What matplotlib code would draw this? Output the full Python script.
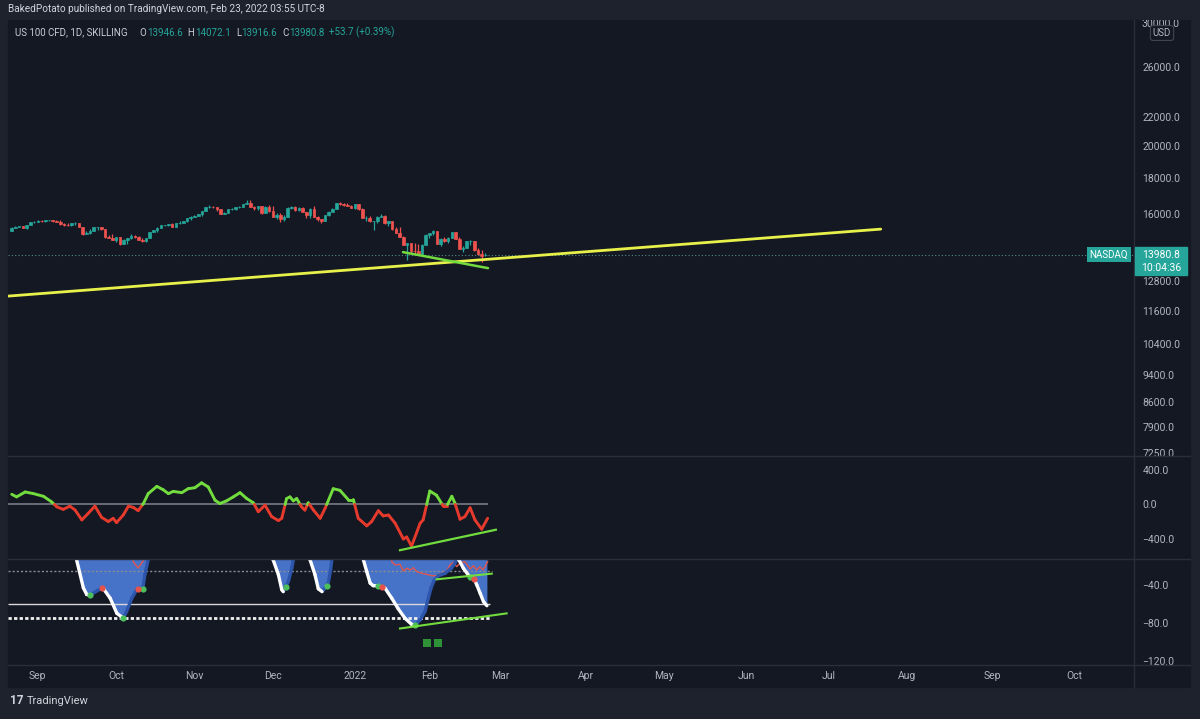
import numpy as np
import pandas as pd
import matplotlib
matplotlib.use('Agg')
import matplotlib.pyplot as plt
import matplotlib.transforms as mtransforms
from matplotlib.collections import LineCollection
from matplotlib.patches import Rectangle
from matplotlib.lines import Line2D
from matplotlib.ticker import NullLocator

plt.rcParams['font.family'] = ['Roboto', 'DejaVu Sans']

# ---- data -----------------------------------------------------------------
holidays = ['2021-09-06', '2021-11-25', '2021-12-24', '2022-01-17', '2022-02-21']
dates = pd.bdate_range('2021-08-23', '2022-02-23').drop(pd.to_datetime(holidays))
future = pd.bdate_range('2022-02-24', '2022-11-30')

opens = [15130, 15290, 15320, 15350, 15270, 15400, 15570,
         15580, 15610, 15600, 15650, 15670, 15620, 15560, 15450, 15430, 15400, 15520,
         15530, 15330, 14990, 15000, 15140, 15300, 15320, 15240, 14810, 14790,
         14690, 14800, 14470, 14660, 14750, 14880, 14810, 14690, 14640, 14760, 15070,
         15150, 15290, 15400, 15410, 15480, 15340, 15500, 15530, 15600, 15770,
         15850, 15900, 15970, 16150, 16350, 16390, 16350, 16240, 16000, 16060, 16240,
         16240, 16350, 16350, 16520, 16570, 16370, 16330, 16400, 16030, 16380,
         16140, 15830, 15960, 15710, 15850, 16330, 16390, 16190, 16330, 16100, 15940,
         16270, 15840, 15720, 15600, 15920, 16120, 16270, 16570, 16500, 16490, 16420,
         16320, 16500, 16280, 15770, 15770, 15610, 15620, 15850, 15900, 15500,
         15610, 15200, 15030, 14840, 14440, 14510, 14150, 14140, 14030, 14450,
         14930, 15000, 15120, 14500, 14700, 14630, 14780, 15050, 14730, 14250,
         14270, 14620, 14620, 14190, 14010, 13946.6]
highs = [15320, 15360, 15380, 15370, 15420, 15590, 15600,
         15660, 15650, 15680, 15700, 15680, 15660, 15650, 15540, 15500, 15530, 15560,
         15540, 15330, 15120, 15200, 15330, 15340, 15330, 15240, 14920, 14950,
         14820, 14800, 14720, 14780, 14950, 14930, 14890, 14760, 14790, 15090, 15170,
         15310, 15420, 15440, 15490, 15510, 15510, 15600, 15640, 15790, 15870,
         15920, 15990, 16170, 16380, 16470, 16420, 16370, 16240, 16100, 16250, 16300,
         16380, 16400, 16540, 16760, 16720, 16400, 16420, 16400, 16420, 16450,
         16400, 16040, 16040, 15920, 16350, 16420, 16400, 16350, 16370, 16120, 16290,
         16410, 15900, 15730, 15930, 16130, 16300, 16580, 16640, 16560, 16580, 16480,
         16510, 16550, 16300, 15910, 15860, 15630, 15860, 15980, 15960, 15630,
         15610, 15330, 15330, 14890, 14520, 14510, 14550, 14490, 14460, 14950,
         15020, 15190, 15120, 14780, 14820, 14800, 15060, 15090, 14800, 14400,
         14630, 14670, 14620, 14270, 14190, 14072.1]
lows = [15120, 15280, 15300, 15260, 15240, 15400, 15520,
        15570, 15570, 15570, 15620, 15560, 15550, 15440, 15380, 15360, 15360, 15440,
        15300, 14920, 14960, 14980, 15130, 15170, 15180, 14790, 14760, 14680,
        14560, 14420, 14470, 14480, 14740, 14790, 14680, 14600, 14590, 14760, 15050,
        15090, 15270, 15350, 15370, 15300, 15320, 15480, 15520, 15560, 15700,
        15810, 15860, 15900, 16150, 16300, 16300, 16170, 15970, 15990, 16030, 16180,
        16220, 16310, 16340, 16500, 16350, 16200, 16200, 15990, 16030, 16080,
        15830, 15740, 15550, 15630, 15850, 16250, 16170, 16140, 16080, 15800, 15780,
        15820, 15610, 15500, 15600, 15860, 16110, 16260, 16480, 16430, 16400, 16310,
        16240, 16210, 15770, 15640, 15580, 15170, 15500, 15810, 15490, 15370,
        15180, 15020, 14830, 14440, 13720, 14070, 13960, 14000, 13960, 14420,
        14790, 14940, 14460, 14380, 14590, 14530, 14780, 14720, 14230, 14080,
        14270, 14430, 14170, 13970, 13660, 13916.6]
closes = [15290, 15320, 15350, 15270, 15400, 15570, 15580,
          15610, 15600, 15650, 15670, 15620, 15560, 15450, 15430, 15400, 15520, 15530,
          15330, 14990, 15000, 15140, 15300, 15320, 15240, 14810, 14790, 14690,
          14800, 14470, 14660, 14750, 14880, 14810, 14690, 14640, 14760, 15070, 15150,
          15290, 15400, 15410, 15480, 15340, 15500, 15530, 15600, 15770, 15850,
          15900, 15970, 16150, 16350, 16390, 16350, 16240, 16000, 16060, 16240, 16240,
          16350, 16350, 16520, 16570, 16370, 16330, 16400, 16030, 16380, 16140,
          15830, 15960, 15710, 15850, 16330, 16390, 16190, 16330, 16100, 15940, 16270,
          15840, 15720, 15600, 15920, 16120, 16270, 16570, 16500, 16490, 16420, 16320,
          16500, 16280, 15770, 15770, 15610, 15620, 15850, 15900, 15500, 15610,
          15200, 15030, 14840, 14440, 14510, 14150, 14140, 14030, 14450, 14930,
          15000, 15120, 14500, 14700, 14630, 14780, 15050, 14730, 14250, 14270,
          14620, 14620, 14190, 14010, 13927.1, 13980.8]
assert len(opens) == len(highs) == len(lows) == len(closes) == len(dates)

last_price = 13980.8
yellow_x, yellow_y = [-1, 233], [12190, 15210]
pdiv_x, pdiv_y = [104.9, 127.7], [14097, 13370]
price_ticks = [26000, 22000, 20000, 18000, 16000, 12800, 11600, 10400, 9400, 8600, 7900, 7250]

# upper oscillator
osc_x = [0, 1.3, 3.6, 5.8, 8.5, 10.7, 12.1, 13.8, 15.6, 17.0, 18.8, 20.5, 22.3, 24.1, 25.9,
         27.2, 28.1, 29.9, 31.3, 32.6, 33.9, 35.3, 36.6, 38.9, 40.6, 42.0, 43.3, 45.6, 47.3,
         49.1, 50.9, 52.7, 54.5, 55.8, 57.6, 59.4, 61.2, 63.0, 64.8, 66.1, 67.9, 69.7, 71.5,
         72.4, 73.7, 74.6, 75.5, 76.4, 77.7, 78.6, 79.5, 80.9, 82.7, 84.0, 86.2, 88.0, 90.2,
         91.6, 92.9, 95.2, 96.5, 98.3, 99.6, 101.0, 102.8, 105.0, 105.9, 107.2, 109.5, 110.3,
         112.1, 113.9, 115.7, 116.6, 118.0, 118.8, 120.2, 121.5, 122.9, 124.2, 126.0, 127.6]
osc_y = [118, 88, 145, 126, 95, 30, -27, -57, -19, -65, -179, -103, -19, -149, -198,
         -160, -210, -122, -19, -34, -72, 11, 126, 210, 171, 126, 152, 137, 183,
         194, 251, 202, 50, 11, 42, 88, 137, 69, 19, -84, -8, -141, -187,
         -160, 69, 88, 42, 69, -27, -65, 19, -65, -160, -46, 183, 164, 57,
         57, -160, -248, -198, -72, -133, -122, -217, -400, -377, -484, -217, -179,
         156, 107, -19, -19, 95, 19, -171, -141, -38, -179, -286, -160]
odiv_x, odiv_y = [104.1, 129.8], [-530, -293]

# lower oscillator
wave_x = [0, 16.8, 17.4, 19.2, 20.1, 21.0, 22.5, 24.1, 24.6, 26.4, 28.2, 29.9, 30.8, 32.2,
          33.5, 35.1, 35.7, 36.6, 37.2,
          69.5, 70.1, 71.5, 72.4, 72.8, 73.5, 74.2, 75.1, 75.5, 76.0,
          79.5, 80.0, 81.3, 82.2, 83.2, 84.5, 84.9, 85.5, 85.8, 86.3,
          93.8, 94.3, 95.2, 96.1, 96.9, 98.3, 99.2, 100.1, 101.9, 103.6, 105.4, 107.2, 108.1,
          109.5, 110.8, 111.7, 112.4, 113.3, 114.4, 116.2, 117.9, 118.8, 119.3, 119.6, 119.9,
          121.1, 122.4, 122.9, 124.0, 124.7, 125.6, 126.5, 127.4]
wave_y = [0, 0, -13.5, -43, -50, -51, -47, -43.5, -44, -54, -70, -75, -68, -54,
          -45, -44.5, -29, -13, 0,
          0, -13.5, -29, -45, -47, -42, -36, -22, -13.5, 0,
          0, -13.5, -29, -44, -47, -41, -37, -24, -13.5, 0,
          0, -13.5, -26, -38, -40.7, -41, -42, -43.5, -54, -65, -75, -81.6, -82.3,
          -77, -68, -54, -43.5, -34.7, -30.2, -27.6, -22.3, -17, -13.5, -8, -13.5,
          -22.3, -29.4, -31.2, -33.7, -40, -48.8, -57.7, -61.9]
signal_x = [0, 32.0, 32.6, 33.9, 35.2, 35.8, 101.3, 101.9, 102.8, 104.1, 105.0, 105.9, 106.8,
            107.7, 108.6, 109.9, 111.3, 112.6, 113.9, 115.3, 116.6, 117.5, 118.4, 119.3,
            120.2, 121.5, 122.9, 123.8, 124.7, 125.5, 126.4, 127.6]
signal_y = [0, 0, -15.7, -22, -14.6, 0, 0, -15.3, -18.8, -18.1, -25.2, -22.3, -24.1,
            -21.7, -25.9, -27.6, -28.7, -30.2, -30.2, -27.6, -25.2, -18.8, -16.0, -20.6,
            -17.0, -15.3, -23.1, -19.6, -24.1, -20.6, -24.1, -15.3]
green_dot_x = [21.0, 29.9, 35.1, 73.5, 84.5, 98.3, 108.1, 122.9]
green_dot_y = [-51, -75, -44.5, -42, -41, -41, -82.3, -31.2]
red_dot_x = [24.1, 33.9, 99.2, 124.0]
red_dot_y = [-43.5, -44.5, -42, -33.7]
square_x = [111.3, 114.3]
square_y = [-101, -101]
wdiv1_x, wdiv1_y = [113.9, 128.7], [-34, -28]
wdiv2_x, wdiv2_y = [104.1, 132.7], [-86, -70]

# ---- style ----------------------------------------------------------------
W, H = 1200, 719
FRAME = '#1e222d'
BG = '#141823'
SEP = '#2a2e39'
TXT = '#b2b5be'
UP = '#26a69a'
DOWN = '#ef5350'
LIME = '#72dc3e'
RED = '#e53a2c'
FILL = '#4672c8'
EDGE = '#2c55ab'
XLIM = (-1.0, 300.9)

fig = plt.figure(figsize=(W / 100, H / 100), dpi=100)
fig.patch.set_facecolor(FRAME)


def box(x0, y0, x1, y1):
    return [x0 / W, 1 - y1 / H, (x1 - x0) / W, (y1 - y0) / H]


def fx(x):
    return x / W


def fy(y):
    return 1 - y / H


fig.add_artist(Rectangle((fx(8), fy(687)), (1190 - 8) / W, (687 - 20) / H,
                         transform=fig.transFigure, color=BG, zorder=-5))

ax_p = fig.add_axes(box(8, 20, 1134, 456))
ax_o = fig.add_axes(box(8, 456, 1134, 559))
ax_w = fig.add_axes(box(8, 559, 1134, 665))
for ax in (ax_p, ax_o, ax_w):
    ax.set_facecolor(BG)
    for s in ax.spines.values():
        s.set_visible(False)
    ax.set_xlim(*XLIM)
    ax.yaxis.tick_right()
    ax.tick_params(axis='y', which='both', length=0, pad=6, labelsize=7.5, labelcolor=TXT)
    ax.tick_params(axis='x', length=0)

# ---- price pane -----------------------------------------------------------
o, h, l, c = map(np.array, (opens, highs, lows, closes))
idx = np.arange(len(c))
col = np.where(c >= o, UP, DOWN)
ax_p.set_yscale('log')
ax_p.set_ylim(7187, 30356)
ax_p.vlines(idx, l, h, colors=col, lw=0.9, zorder=2)
ax_p.bar(idx, np.abs(c - o), bottom=np.minimum(o, c), width=0.7, color=col,
         edgecolor=col, linewidth=0.5, zorder=3)
ax_p.axhline(last_price, color='#4f8f88', lw=0.8, ls=(0, (1, 2)), zorder=1)
ax_p.plot(yellow_x, yellow_y, color='#e8f04a', lw=2, zorder=4, solid_capstyle='round')
ax_p.plot(pdiv_x, pdiv_y, color=LIME, lw=1.8, zorder=5, solid_capstyle='round')
ax_p.set_yticks(price_ticks)
ax_p.set_yticklabels([f'{t:.1f}' for t in price_ticks])
ax_p.yaxis.set_minor_locator(NullLocator())
ax_p.set_xticks([])

ax_ps = fig.add_axes(box(1134, 20, 1190, 456))
ax_ps.set_yscale('log')
ax_ps.set_ylim(7187, 30356)
ax_ps.axis('off')
ax_ps.text(8 / 56, 30000, '30000.0', transform=mtransforms.blended_transform_factory(
    ax_ps.transAxes, ax_ps.transData), va='center', ha='left', fontsize=7.5,
    color=TXT, clip_on=True)

# ---- upper oscillator -----------------------------------------------------
ax_o.set_ylim(-632, 562)
ax_o.hlines(0, XLIM[0], 127.7, color='#787b86', lw=1.2, zorder=1)
segs, cols = [], []
for i in range(len(osc_x) - 1):
    x0, y0, x1, y1 = osc_x[i], osc_y[i], osc_x[i + 1], osc_y[i + 1]
    if (y0 >= 0) != (y1 >= 0):
        xc = x0 + (x1 - x0) * (0 - y0) / (y1 - y0)
        segs += [[(x0, y0), (xc, 0)], [(xc, 0), (x1, y1)]]
        cols += [LIME if y0 >= 0 else RED, LIME if y1 >= 0 else RED]
    else:
        segs.append([(x0, y0), (x1, y1)])
        cols.append(LIME if y0 >= 0 else RED)
ax_o.add_collection(LineCollection(segs, colors=cols, linewidths=2.1, capstyle='round',
                                   zorder=3))
ax_o.plot(odiv_x, odiv_y, color=LIME, lw=1.6, zorder=4)
ax_o.set_yticks([400, 0, -400])
ax_o.set_yticklabels(['400.0', '0.0', '\u2212400.0'])
ax_o.set_xticks([])

# ---- lower oscillator -----------------------------------------------------
ax_w.set_ylim(-124.6, -12.5)
ax_w.fill_between(wave_x, wave_y, 40, color=FILL, lw=0, zorder=1)
ax_w.hlines(-25, XLIM[0], 128.7, color='#8a8d96', lw=1.0, ls=(0, (1.5, 1.5)), zorder=2)
ax_w.hlines(-60, XLIM[0], 128.2, color='#d8d8d8', lw=1.0, zorder=2)
ax_w.hlines(-75, XLIM[0], 128.2, color='#f0f0f0', lw=2.0, ls=(0, (1.2, 0.8)), zorder=2)
ax_w.plot(signal_x, signal_y, color='#e0574f', lw=1.0, zorder=3)
wsegs, wcols = [], []
for i in range(len(wave_x) - 1):
    wsegs.append([(wave_x[i], wave_y[i]), (wave_x[i + 1], wave_y[i + 1])])
    wcols.append('white' if wave_y[i + 1] < wave_y[i] else EDGE)
order = sorted(range(len(wsegs)), key=lambda k: wcols[k] == 'white')
ax_w.add_collection(LineCollection([wsegs[k] for k in order], colors=[wcols[k] for k in order],
                                   linewidths=2.4, capstyle='round', zorder=4))
ax_w.scatter(green_dot_x, green_dot_y, s=20, color='#4cbf5c', zorder=5, lw=0)
ax_w.scatter(red_dot_x, red_dot_y, s=20, color='#e5534b', zorder=5, lw=0)
ax_w.plot(wdiv1_x, wdiv1_y, color=LIME, lw=1.5, zorder=6)
ax_w.plot(wdiv2_x, wdiv2_y, color=LIME, lw=1.5, zorder=6)
ax_w.scatter(square_x, square_y, marker='s', s=36, color='#2f9236', zorder=5, lw=0)
ax_w.set_yticks([-40, -80, -120])
ax_w.set_yticklabels(['\u221240.0', '\u221280.0', '\u2212120.0'])

all_dates = dates.append(future)
month_pos, month_lab = [], []
prev = (all_dates[0].year, all_dates[0].month)
for i, d in enumerate(all_dates):
    if (d.year, d.month) != prev:
        month_pos.append(i)
        month_lab.append(str(d.year) if d.month == 1 else d.strftime('%b'))
        prev = (d.year, d.month)
ax_w.set_xticks(month_pos)
ax_w.set_xticklabels(month_lab)
ax_w.tick_params(axis='x', length=0, pad=4, labelsize=7.5, labelcolor=TXT)
ax_w.set_xlim(*XLIM)

# ---- separators and labels ------------------------------------------------
for y in (456, 559, 665):
    fig.add_artist(Line2D([fx(8), fx(1190)], [fy(y), fy(y)], transform=fig.transFigure,
                          color=SEP, lw=1))
fig.add_artist(Line2D([fx(1134), fx(1134)], [fy(20), fy(687)], transform=fig.transFigure,
                      color=SEP, lw=1))

fig.text(fx(1162), fy(33), 'USD', ha='center', va='center', fontsize=7, color=TXT,
         bbox=dict(boxstyle='round,pad=0.25', fc=BG, ec='#434651', lw=0.8))
fig.text(fx(1109), fy(254.5), 'NASDAQ', ha='center', va='center', fontsize=7,
         color='white', bbox=dict(boxstyle='square,pad=0.28', fc=UP, ec='none'))
fig.add_artist(Rectangle((fx(1135), fy(275)), 52 / W, 28 / H, transform=fig.transFigure,
                         color=UP, zorder=2))
fig.text(fx(1161), fy(254.5), f'{last_price:.1f}', ha='center', va='center', fontsize=7.5,
         color='white', zorder=3)
fig.text(fx(1161), fy(268), '10:04:36', ha='center', va='center', fontsize=7.5,
         color='white', zorder=3)

fig.text(fx(8), fy(9.5), 'BakedPotato published on TradingView.com, Feb 23, 2022 03:55 UTC-8',
         ha='left', va='center', fontsize=7.2, color='#d1d4dc')

LEG = '#c8cbd3'
legend_parts = [('US 100 CFD, 1D, SKILLING', LEG, 12), ('O', LEG, 0.5), ('13946.6', UP, 5),
                ('H', LEG, 0.5), ('14072.1', UP, 5), ('L', LEG, 0.5), ('13916.6', UP, 5),
                ('C', LEG, 0.5), ('13980.8', UP, 5), ('+53.7 (+0.39%)', UP, 0)]
renderer = fig.canvas.get_renderer()
xpos = 15
for s, cc, gap in legend_parts:
    t = fig.text(fx(xpos), fy(32.5), s, ha='left', va='center', fontsize=7, color=cc)
    xpos += t.get_window_extent(renderer).width + gap

fig.text(fx(10), fy(701), '17', ha='left', va='center', fontsize=8.5, color='#d1d4dc',
         weight='bold')
fig.text(fx(27), fy(701), 'TradingView', ha='left', va='center', fontsize=8,
         color='#d1d4dc')

fig.savefig('out.png', dpi=100, facecolor=FRAME)
